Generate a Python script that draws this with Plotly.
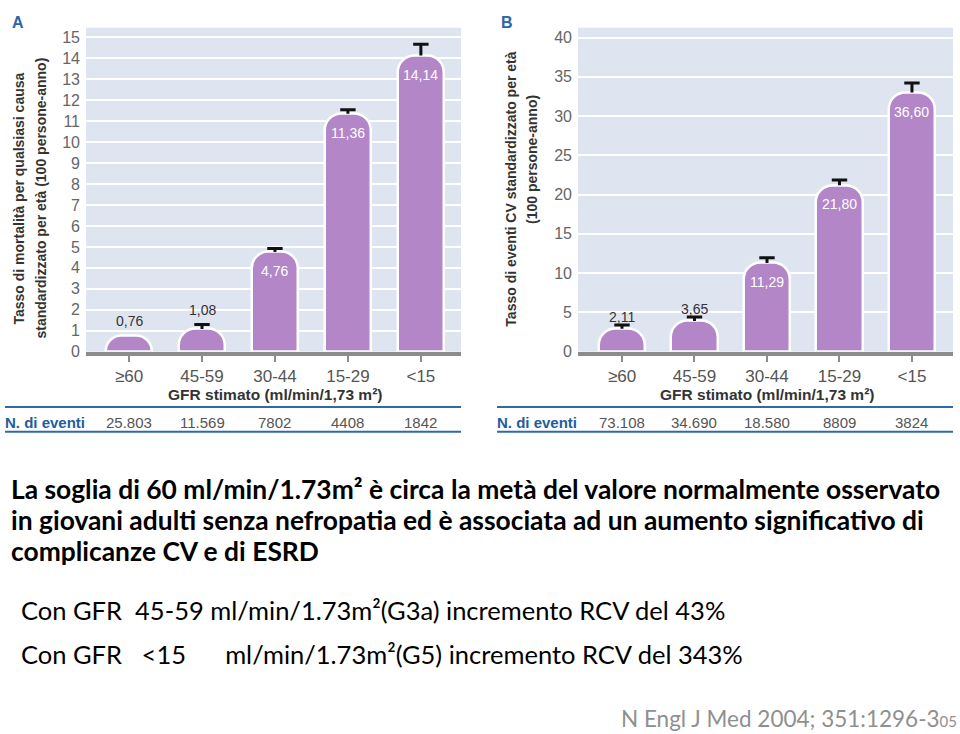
import plotly.graph_objects as go

# ---------------- data ----------------
categories = ["≥60", "45-59", "30-44", "15-29", "<15"]
x_idx = [0, 1, 2, 3, 4]

# Panel A: all-cause mortality (per 100 person-years)
rate_a = [0.76, 1.08, 4.76, 11.36, 14.14]
rate_a_labels = ["0,76", "1,08", "4,76", "11,36", "14,14"]
ci_up_a = [None, 1.30, 4.92, 11.55, 14.68]
events_a = ["25.803", "11.569", "7802", "4408", "1842"]

# Panel B: CV events (per 100 person-years); bar heights as drawn in the picture
rate_b_labels = ["2,11", "3,65", "11,29", "21,80", "36,60"]
bar_height_b = [2.9, 3.9, 11.3, 21.2, 33.0]
ci_up_b = [3.4, 4.4, 11.95, 21.85, 34.2]
events_b = ["73.108", "34.690", "18.580", "8809", "3824"]

W, H = 960, 734
def px(x): return x / W
def py(y): return 1 - y / H

BAR = "#b386c8"
BG = "#dfe4f1"
NARROW = "Liberation Sans Narrow, Arial Narrow, Liberation Sans, Arial, sans-serif"
SANS = "Liberation Sans, Arial, sans-serif"
CAL = "Lato, Calibri, Open Sans, sans-serif"

fig = go.Figure()

def err(vals, heights):
    return [None if v is None else v - h for v, h in zip(vals, heights)]

for xa, ya, hts, cis in [("x", "y", rate_a, ci_up_a), ("x2", "y2", bar_height_b, ci_up_b)]:
    fig.add_trace(go.Bar(
        x=x_idx, y=hts, xaxis=xa, yaxis=ya, width=0.64,
        marker=dict(color=BAR, line=dict(color="white", width=2.5), cornerradius=17),
        error_y=dict(type="data", symmetric=False, array=err(cis, hts),
                     arrayminus=[0] * 5, color="#111", thickness=3, width=0),
        showlegend=False, hoverinfo="skip"))
    # error-bar caps (upper only)
    fig.add_trace(go.Scatter(
        x=x_idx, y=cis, xaxis=xa, yaxis=ya, mode="markers",
        marker=dict(symbol="line-ew", size=11, line=dict(color="#111", width=3)),
        showlegend=False, hoverinfo="skip"))

ax_common = dict(
    tickmode="array", tickvals=x_idx, ticktext=categories,
    tickfont=dict(family=SANS, size=17, color="#555"),
    ticks="outside", ticklen=6, tickwidth=2, tickcolor="#8c8c8c",
    showline=True, linecolor="#8c8c8c", linewidth=4,
    showgrid=False, zeroline=False, fixedrange=True)
ay_common = dict(
    tickfont=dict(family=SANS, size=16, color="#666"),
    showgrid=True, gridcolor="white", gridwidth=2, ticklabelstandoff=5,
    zeroline=False, showline=False, ticks="", fixedrange=True)

fig.update_layout(
    width=W, height=H, margin=dict(l=0, r=0, t=0, b=0),
    paper_bgcolor="white", plot_bgcolor=BG, bargap=0,
    xaxis=dict(domain=[px(86), px(461)], range=[-0.59, 4.55], anchor="y", **ax_common),
    yaxis=dict(domain=[py(356), py(28)], range=[0, 15.47], tickvals=list(range(16)),
               anchor="x", **ay_common),
    xaxis2=dict(domain=[px(578), px(953)], range=[-0.607, 4.566], anchor="y2", **ax_common),
    yaxis2=dict(domain=[py(356), py(28)], range=[0, 41.26], tickvals=list(range(0, 41, 5)),
                anchor="x2", **ay_common),
)

ann = []
shapes = []

def A(**kw):
    kw.setdefault("showarrow", False)
    kw.setdefault("xanchor", "center")
    kw.setdefault("yanchor", "middle")
    ann.append(kw)

# value labels
for i in range(5):
    inside = i >= 2
    A(x=x_idx[i], y=rate_a[i], xref="x", yref="y", text=rate_a_labels[i],
      yanchor="top" if inside else "bottom",
      yshift=-9 if inside else (5 if i == 0 else 9),
      font=dict(family=NARROW, size=14, color="white" if inside else "#333"))
    A(x=x_idx[i], y=bar_height_b[i], xref="x2", yref="y2", text=rate_b_labels[i],
      yanchor="top" if inside else "bottom",
      yshift=-9 if inside else 2,
      font=dict(family=NARROW, size=14, color="white" if inside else "#333"))
    A(x=x_idx[i], y=py(428), xref="x", yref="paper", text=events_a[i],
      font=dict(family=SANS, size=15, color="#555"))
    A(x=x_idx[i], y=py(428), xref="x2", yref="paper", text=events_b[i],
      font=dict(family=SANS, size=15, color="#555"))

# panel letters
A(x=px(18), y=py(23), xref="paper", yref="paper", text="<b>A</b>",
  font=dict(family=SANS, size=16, color="#2a66a6"))
A(x=px(507), y=py(23), xref="paper", yref="paper", text="<b>B</b>",
  font=dict(family=SANS, size=16, color="#2a66a6"))

# y-axis titles
ytitle_font = dict(family=NARROW, size=14, color="#333")
A(x=px(19), y=py(201), xref="paper", yref="paper", textangle=-90,
  text="<b>Tasso di mortalità per qualsiasi causa</b>", font=ytitle_font)
A(x=px(41), y=py(201), xref="paper", yref="paper", textangle=-90,
  text="<b>standardizzato per età (100 persone-anno)</b>", font=ytitle_font)
A(x=px(511), y=py(192), xref="paper", yref="paper", textangle=-90,
  text="<b>Tasso di eventi CV standardizzato per età</b>", font=ytitle_font)
A(x=px(532), y=py(162), xref="paper", yref="paper", textangle=-90,
  text="<b>(100 persone-anno)</b>", font=ytitle_font)

# x-axis titles
for xr in ["x", "x2"]:
    A(x=2, y=py(399), xref=xr, yref="paper",
      text="<b>GFR stimato (ml/min/1,73 m²)</b>",
      font=dict(family=SANS, size=15.5, color="#333"))

# table header and rules
for x0 in (3, 495):
    A(x=px(x0), y=py(428), xref="paper", yref="paper", xanchor="left",
      text="<b>N. di eventi</b>", font=dict(family=SANS, size=15, color="#1f5d9e"))
for (x0, x1) in [(5, 461), (497, 953)]:
    for yy in (412, 437):
        shapes.append(dict(type="line", xref="paper", yref="paper",
                           x0=px(x0), x1=px(x1), y0=py(yy), y1=py(yy),
                           line=dict(color="#2e6aa6", width=2)))

# body text
bold_lines = [
    "La soglia di 60 ml/min/1.73m² è circa la metà del valore normalmente osservato",
    "in giovani adulti senza nefropatia ed è associata ad un aumento significativo di",
    "complicanze CV e di ESRD",
]
for yy, t in zip([495, 526, 558], bold_lines):
    A(x=px(9), y=py(yy), xref="paper", yref="paper", xanchor="left",
      text="<b>" + t + "</b>", font=dict(family=CAL, size=26.4, color="#000"))

A(x=px(19), y=py(618), xref="paper", yref="paper", xanchor="left",
  text="Con GFR  45-59 ml/min/1.73m²(G3a) incremento RCV del 43%",
  font=dict(family=CAL, size=25.5, color="#000"))
A(x=px(19), y=py(662), xref="paper", yref="paper", xanchor="left",
  text="Con GFR   &lt;15      ml/min/1.73m²(G5) incremento RCV del 343%",
  font=dict(family=CAL, size=25.5, color="#000"))
A(x=px(959), y=py(727), xref="paper", yref="paper", xanchor="right",
  text='N Engl J Med 2004; 351:1296-3<span style="font-size:15px">05</span>',
  font=dict(family=CAL, size=22.5, color="#8f8f8f"))

fig.update_layout(annotations=ann, shapes=shapes)
fig.write_html("out.html")
